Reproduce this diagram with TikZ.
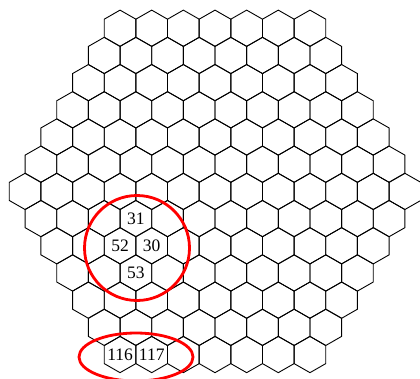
\documentclass[tikz,border=0pt]{standalone}
\usepackage{fontspec}
\setmainfont{Liberation Serif}
\begin{document}
\begin{tikzpicture}[x=1pt,y=-1pt,
  hexline/.style={draw=black,line width=0.9pt,line join=miter},
  lbl/.style={inner sep=0pt,font=\fontsize{17.5}{20}\selectfont},
  redmark/.style={draw=red,line width=2.8pt}]
\useasboundingbox (0,0) rectangle (420,378);
\clip (0,0) rectangle (420,378);
\foreach \r in {0,...,12}{
  \pgfmathtruncatemacro{\n}{13-abs(\r-6)}
  \foreach \k in {1,...,\n}{
    \pgfmathsetmacro{\cx}{215-(\n-1)/2*31.65+(\k-1)*31.65}
    \pgfmathsetmacro{\cy}{28.25+\r*27.19}
    \coordinate (h-\r-\k) at (\cx,\cy);
    \draw[hexline,shift={(\cx,\cy)}] (0,-18.13) -- (15.825,-9.065) -- (15.825,9.065)
      -- (0,18.13) -- (-15.825,9.065) -- (-15.825,-9.065) -- cycle;
  }
}
\node[lbl] (c31) at (h-7-4) {31};
\node[lbl] (c52) at (h-8-3) {52};
\node[lbl] (c30) at (h-8-4) {30};
\node[lbl] (c53) at (h-9-3) {53};
\node[lbl] (c116) at (h-12-1) {116};
\node[lbl] (c117) at (h-12-2) {117};
\draw[redmark] (137,248) circle (52.5);
\draw[redmark] (136,357) ellipse (57 and 24);
\end{tikzpicture}
\end{document}
